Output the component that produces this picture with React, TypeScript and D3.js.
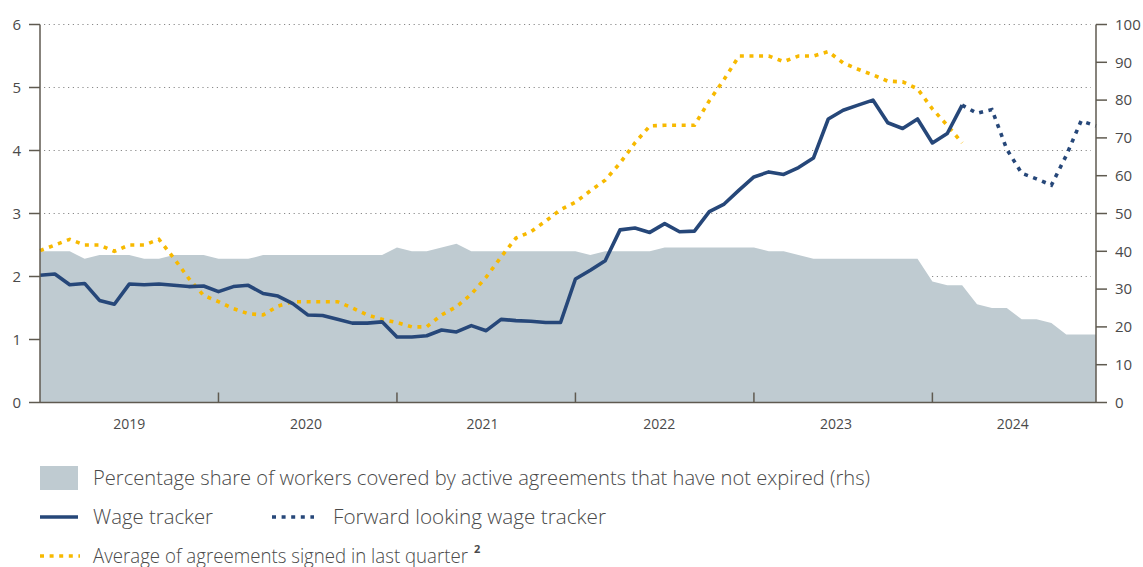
import React from 'react';
import * as d3 from 'd3';

// Monthly data, Jan 2019 (index 0) .. Dec 2024 (index 71)
const years = ['2019', '2020', '2021', '2022', '2023', '2024'];

// Percentage share of workers covered by active agreements (rhs)
const coverageShare = [
  40, 40, 40, 38, 39, 39, 39, 38, 38, 39, 39, 39,
  38, 38, 38, 39, 39, 39, 39, 39, 39, 39, 39, 39,
  41, 40, 40, 41, 42, 40, 40, 40, 40, 40, 40, 40,
  40, 39, 40, 40, 40, 40, 41, 41, 41, 41, 41, 41,
  41, 40, 40, 39, 38, 38, 38, 38, 38, 38, 38, 38,
  32, 31, 31, 26, 25, 25, 22, 22, 21, 18, 18, 18,
];

// Wage tracker (lhs), Jan 2019 .. Mar 2024
const wageTracker = [
  2.02, 2.04, 1.87, 1.89, 1.62, 1.56, 1.88, 1.87, 1.88, 1.86, 1.84, 1.85,
  1.76, 1.84, 1.86, 1.73, 1.69, 1.57, 1.39, 1.38, 1.32, 1.26, 1.26, 1.28,
  1.04, 1.04, 1.06, 1.15, 1.12, 1.22, 1.14, 1.32, 1.30, 1.29, 1.27, 1.27,
  1.96, 2.10, 2.25, 2.74, 2.77, 2.70, 2.84, 2.71, 2.72, 3.03, 3.15, 3.37,
  3.58, 3.66, 3.62, 3.73, 3.88, 4.50, 4.64, 4.72, 4.80, 4.44, 4.35, 4.50,
  4.12, 4.27, 4.72,
];

// Forward looking wage tracker (lhs), Mar 2024 .. Dec 2024
const forwardStart = 62;
const forwardTracker = [4.72, 4.59, 4.65, 4.02, 3.64, 3.55, 3.45, 3.92, 4.47, 4.39];

// Average of agreements signed in last quarter (lhs), Jan 2019 .. Mar 2024
const agreementsAvg = [
  2.41, 2.50, 2.59, 2.50, 2.50, 2.40, 2.50, 2.50, 2.59, 2.29, 1.97, 1.70,
  1.60, 1.49, 1.41, 1.39, 1.53, 1.60, 1.60, 1.60, 1.60, 1.50, 1.39, 1.32,
  1.27, 1.20, 1.20, 1.39, 1.52, 1.72, 1.99, 2.31, 2.61, 2.71, 2.88, 3.06,
  3.18, 3.36, 3.53, 3.80, 4.12, 4.39, 4.40, 4.40, 4.40, 4.79, 5.13, 5.50,
  5.50, 5.50, 5.41, 5.50, 5.50, 5.57, 5.39, 5.29, 5.20, 5.10, 5.09, 4.98,
  4.66, 4.40, 4.12,
];

const leftTicks = [0, 1, 2, 3, 4, 5, 6];
const rightTicks = [0, 10, 20, 30, 40, 50, 60, 70, 80, 90, 100];

const legendItems = {
  share: 'Percentage share of workers covered by active agreements that have not expired (rhs)',
  wage: 'Wage tracker',
  forward: 'Forward looking wage tracker',
  avg: 'Average of agreements signed in last quarter',
};

const C = {
  area: '#bfcbd1',
  navy: '#264779',
  yellow: '#f7b900',
  axis: '#5f5a50',
  grid: '#8a8a8a',
  text: '#4a4a4a',
};

export default function App() {
  const W = 1143;
  const H = 567;
  const x0 = 40;
  const x1 = 1096;
  const yTop = 24.5;
  const yBot = 402.5;
  const font = "'Open Sans', 'Noto Sans', sans-serif";

  const x = d3.scaleLinear().domain([0, 71]).range([x0, x1]);
  const yL = d3.scaleLinear().domain([0, 6]).range([yBot, yTop]);
  const yR = d3.scaleLinear().domain([0, 100]).range([yBot, yTop]);

  const areaGen = d3
    .area<number>()
    .x((_, i) => x(i))
    .y0(yBot)
    .y1((d) => yR(d));
  const lineGen = d3
    .line<number>()
    .x((_, i) => x(i))
    .y((d) => yL(d));
  const fwdGen = d3
    .line<number>()
    .x((_, i) => x(i + forwardStart))
    .y((d) => yL(d));

  const yearTicks = d3.range(12, 72, 12);
  const legendFont = { fontSize: 20, fontWeight: 300, fill: C.text, lengthAdjust: 'spacingAndGlyphs' as const };

  return (
    <svg
      width={W}
      height={H}
      viewBox={`0 0 ${W} ${H}`}
      style={{ position: 'absolute', left: 0, top: 0, background: '#fff' }}
      fontFamily={font}
    >
      {/* grid */}
      {leftTicks
        .filter((t) => t > 0)
        .map((t) => (
          <line
            key={'g' + t}
            x1={x0 + 4}
            x2={x1 - 5}
            y1={yL(t)}
            y2={yL(t)}
            stroke={C.grid}
            strokeWidth={1.2}
            strokeDasharray="1.2,3.6"
          />
        ))}

      {/* coverage area */}
      <path d={areaGen(coverageShare) || ''} fill={C.area} />

      {/* yellow dotted */}
      <path
        d={lineGen(agreementsAvg) || ''}
        fill="none"
        stroke={C.yellow}
        strokeWidth={3.6}
        strokeDasharray="4,5.6"
      />

      {/* wage tracker */}
      <path
        d={lineGen(wageTracker) || ''}
        fill="none"
        stroke={C.navy}
        strokeWidth={3.6}
        strokeLinejoin="round"
      />

      {/* forward looking */}
      <path
        d={fwdGen(forwardTracker) || ''}
        fill="none"
        stroke={C.navy}
        strokeWidth={3.6}
        strokeDasharray="4,5.6"
      />

      {/* left axis */}
      <line x1={x0} x2={x0} y1={yTop} y2={yBot} stroke={C.axis} strokeWidth={1.5} />
      {leftTicks.map((t) => (
        <g key={'l' + t}>
          <line x1={x0 - 11} x2={x0} y1={yL(t)} y2={yL(t)} stroke={C.axis} strokeWidth={1.5} />
          <text x={21} y={yL(t)} dy="0.35em" textAnchor="end" fontSize={15} fill={C.text}>
            {t}
          </text>
        </g>
      ))}

      {/* right axis */}
      <line x1={x1} x2={x1} y1={yTop} y2={yBot} stroke={C.axis} strokeWidth={1.5} />
      {rightTicks.map((t) => (
        <g key={'r' + t}>
          <line x1={x1} x2={x1 + 11} y1={yR(t)} y2={yR(t)} stroke={C.axis} strokeWidth={1.5} />
          <text x={1115} y={yR(t)} dy="0.35em" textAnchor="start" fontSize={15} fill={C.text}>
            {t}
          </text>
        </g>
      ))}

      {/* bottom axis */}
      <line x1={x0} x2={x1} y1={yBot} y2={yBot} stroke={C.axis} strokeWidth={1.5} />
      {yearTicks.map((t) => (
        <line key={'t' + t} x1={x(t)} x2={x(t)} y1={yBot} y2={yBot - 10} stroke={C.axis} strokeWidth={1.5} />
      ))}
      {years.map((yr, k) => (
        <text
          key={yr}
          x={x(6 + k * 11.88)}
          y={424}
          dy="0.35em"
          textAnchor="middle"
          fontSize={14}
          fill={C.text}
        >
          {yr}
        </text>
      ))}

      {/* legend */}
      <rect x={40} y={466} width={38} height={24} fill={C.area} />
      <text x={93} y={478} dy="0.35em" textLength={777} {...legendFont}>
        {legendItems.share}
      </text>

      <line x1={40} x2={78} y1={517} y2={517} stroke={C.navy} strokeWidth={3.6} />
      <text x={93} y={517} dy="0.35em" textLength={120} {...legendFont}>
        {legendItems.wage}
      </text>
      <line x1={272} x2={314} y1={517} y2={517} stroke={C.navy} strokeWidth={3.6} strokeDasharray="4,5.6" />
      <text x={333} y={517} dy="0.35em" textLength={273} {...legendFont}>
        {legendItems.forward}
      </text>

      <line x1={40} x2={80} y1={556} y2={556} stroke={C.yellow} strokeWidth={3.6} strokeDasharray="4,5.6" />
      <text x={93} y={556} dy="0.35em" textLength={375} {...legendFont}>
        {legendItems.avg}
      </text>
      <text x={474} y={549} dy="0.35em" fontSize={11} fontWeight={700} fill={C.text}>
        2
      </text>
    </svg>
  );
}
